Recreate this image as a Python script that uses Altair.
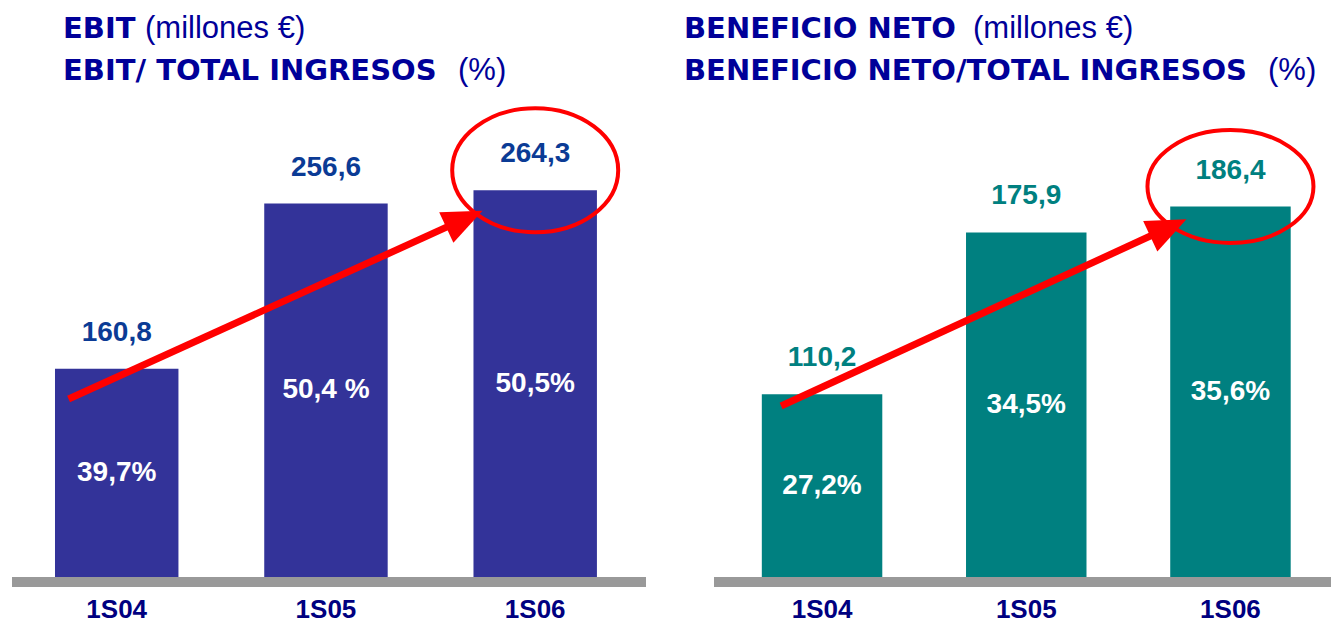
import altair as alt
import pandas as pd

# ---------------- data ----------------
CATS = ["1S04", "1S05", "1S06"]
EBIT = [160.8, 256.6, 264.3]
EBIT_PCT = ["39,7%", "50,4 %", "50,5%"]
NETO = [110.2, 175.9, 186.4]
NETO_PCT = ["27,2%", "34,5%", "35,6%"]

TITLE_L_BOLD = ["EBIT", "EBIT/ TOTAL INGRESOS"]
TITLE_L_NORM = ["(millones €)", "(%)"]
TITLE_R_BOLD = ["BENEFICIO NETO", "BENEFICIO NETO/TOTAL INGRESOS"]
TITLE_R_NORM = ["(millones €)", "(%)"]

# arrow annotations in data coordinates: (category, band position, value)
ARROW_L = {"start": ("1S04", 0.11, 143.2), "end": ("1S06", 0.0, 250.0)}
ARROW_R = {"start": ("1S04", 0.16, 105.4), "end": ("1S06", 0.06, 179.5)}

FONT = "Liberation Sans"
TITLE_FONT = "DejaVu Sans"
H = 569
RED = "#FF0000"


def ellipse_path(ry, dy):
    return (f"M -1 {dy} A 1 {ry} 0 1 0 1 {dy} A 1 {ry} 0 1 0 -1 {dy} Z")


HEAD_PATH = "M 0.25 0 L -0.75 -0.42 L -0.75 0.42 Z"


def panel(values, pcts, bar_color, label_color, domain, width, align, po,
          arrow, tbold, tnorm, tx, nx, rule_x0, ell_ry):
    df = pd.DataFrame({"cat": CATS, "v": values, "pct": pcts})
    base = alt.Chart(df).transform_calculate(
        lab="replace(format(datum.v, '.1f'), '.', ',')",
        mid=f"(datum.v + {domain[0]}) / 2",
    )
    xscale = alt.Scale(domain=CATS, paddingInner=0.41, paddingOuter=po, align=align)
    xenc = alt.X("cat:N", sort=CATS, scale=xscale,
                 axis=alt.Axis(title=None, domain=False, ticks=False, tickSize=0,
                               labelFont=FONT, labelFontSize=26, labelFontWeight="bold",
                               labelColor="#000080", labelPadding=19, labelAngle=0))
    yscale = alt.Scale(domain=domain, zero=False, nice=False)

    bars = base.mark_bar(color=bar_color).encode(
        x=xenc, y=alt.Y("v:Q", scale=yscale, axis=None), y2=alt.Y2(datum=domain[0]))

    vals = base.mark_text(font=FONT, fontSize=28, fontWeight="bold", color=label_color,
                          dy=-36, baseline="middle").encode(
        x=alt.X("cat:N", sort=CATS), y="v:Q", text="lab:N")

    pct = base.mark_text(font=FONT, fontSize=28, fontWeight="bold", color="white",
                         baseline="middle").encode(
        x=alt.X("cat:N", sort=CATS), y="mid:Q", text="pct:N")

    one = pd.DataFrame({"a": [0]})
    baseline = alt.Chart(one).mark_rect(color="#999999").encode(
        x=alt.value(rule_x0), x2=alt.value(width), y=alt.value(H), y2=alt.value(H + 10))

    s, e = arrow["start"], arrow["end"]
    shaft = alt.Chart(one).mark_rule(color=RED, strokeWidth=7, strokeCap="butt").encode(
        x=alt.X(datum=s[0], bandPosition=s[1], type="nominal"),
        y=alt.Y(datum=s[2], type="quantitative"),
        x2=alt.X2(datum=e[0], bandPosition=e[1]),
        y2=alt.Y2(datum=e[2]))
    head = alt.Chart(one).mark_point(shape=HEAD_PATH, size=6400, filled=True, color=RED,
                                     opacity=1, angle=335, strokeWidth=0).encode(
        x=alt.X(datum=e[0], bandPosition=e[1], type="nominal"),
        y=alt.Y(datum=e[2], type="quantitative"))

    last = pd.DataFrame({"cat": [CATS[-1]], "v": [values[-1]]})
    ellipse = alt.Chart(last).mark_point(shape=ellipse_path(ell_ry, -0.241), size=27556,
                                         filled=False, color=RED, opacity=1,
                                         strokeWidth=4).encode(
        x=alt.X("cat:N", sort=CATS), y="v:Q")

    titles = []
    for i, (b, n) in enumerate(zip(tbold, tnorm)):
        ty = 30 if i == 0 else 72
        titles.append(alt.Chart(pd.DataFrame({"t": [b]})).mark_text(
            font=TITLE_FONT, fontSize=29, fontWeight="bold", color="#000099", align="left",
            baseline="alphabetic").encode(text="t:N", x=alt.value(tx), y=alt.value(ty)))
        titles.append(alt.Chart(pd.DataFrame({"t": [n]})).mark_text(
            font=FONT, fontSize=31, fontWeight="normal", color="#000099", align="left",
            baseline="alphabetic").encode(text="t:N", x=alt.value(nx[i]), y=alt.value(ty)))

    return alt.layer(bars, baseline, vals, pct, shaft, head, ellipse, *titles).properties(
        width=width, height=H)


left = panel(EBIT, EBIT_PCT, "#333399", "#0B3B95", [40, 370], 634, 0.467, 0.22,
             ARROW_L, TITLE_L_BOLD, TITLE_L_NORM, 51, [133, 446], 0, 0.747)
right = panel(NETO, NETO_PCT, "#008080", "#008080", [36, 267], 651, 0.67, 0.299,
              ARROW_R, TITLE_R_BOLD, TITLE_R_NORM, 4, [293, 588], 34, 0.68)

chart = alt.hconcat(left, right, spacing=34, padding={"left": 4, "top": 0, "right": 0, "bottom": 0}
                    ).resolve_scale(x="independent", y="independent").configure_view(stroke=None)

chart.save("out.html", embed_options={"renderer": "svg", "actions": False})
